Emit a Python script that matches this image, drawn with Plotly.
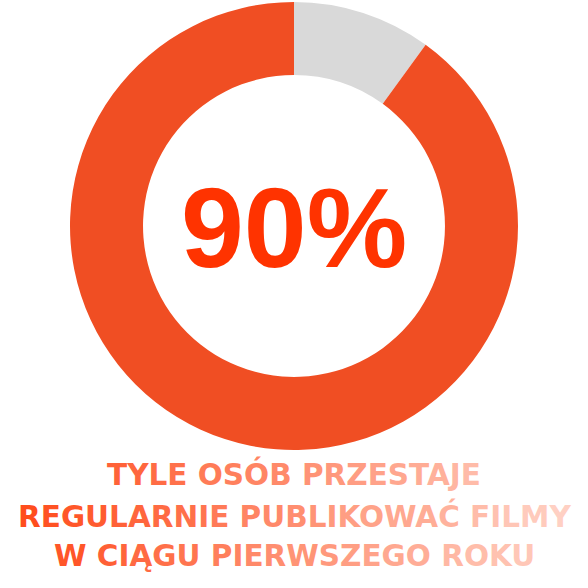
import plotly.graph_objects as go

# ---- data ----
labels = ["Pozostali", "Przestają publikować"]
values = [10, 90]
center_label = "90%"
caption_lines = [
    "TYLE OSÓB PRZESTAJE",
    "REGULARNIE PUBLIKOWAĆ FILMY",
    "W CIĄGU PIERWSZEGO ROKU",
]

# ---- style ----
slice_colors = ["#D9D9D9", "#F04E23"]
W = H = 588
cx, cy, R = 294, 226, 224
grad_left, grad_right = (255, 74, 26), (255, 211, 198)
grad_x0, grad_x1 = 16, 566
line_extents = [(103, 479), (16, 566), (53, 528)]
line_centers = [474, 516, 556]


def grad_color(x):
    t = min(max((x - grad_x0) / (grad_x1 - grad_x0), 0), 1)
    c = [round(a + (b - a) * t) for a, b in zip(grad_left, grad_right)]
    return "rgb(%d,%d,%d)" % tuple(c)


def gradient_text(text, x0, x1):
    n = len(text)
    parts = []
    for i, ch in enumerate(text):
        x = x0 + (x1 - x0) * (i + 0.5) / n
        if ch == " ":
            parts.append(" ")
        else:
            parts.append('<span style="color:%s">%s</span>' % (grad_color(x), ch))
    return "".join(parts)


fig = go.Figure(
    go.Pie(
        labels=labels,
        values=values,
        hole=0.674,
        sort=False,
        direction="clockwise",
        rotation=0,
        marker=dict(colors=slice_colors, line=dict(width=0)),
        textinfo="none",
        hoverinfo="none",
        showlegend=False,
        domain=dict(
            x=[(cx - R) / W, (cx + R) / W],
            y=[1 - (cy + R) / H, 1 - (cy - R) / H],
        ),
    )
)

annotations = [
    dict(
        text="<b>%s</b>" % center_label,
        x=0.5,
        y=1 - 228 / H,
        xref="paper",
        yref="paper",
        xanchor="center",
        yanchor="middle",
        showarrow=False,
        font=dict(family="Liberation Sans, Arial", size=113, color="#FF3300"),
    )
]
for line, (x0, x1), yc in zip(caption_lines, line_extents, line_centers):
    annotations.append(
        dict(
            text=gradient_text(line, x0, x1),
            x=0.5,
            y=1 - yc / H,
            xref="paper",
            yref="paper",
            xanchor="center",
            yanchor="middle",
            showarrow=False,
            font=dict(family="DejaVu Sans", size=29.5, weight="bold", color="#FF4A1A"),
        )
    )

fig.update_layout(
    width=W,
    height=H,
    margin=dict(l=0, r=0, t=0, b=0),
    paper_bgcolor="white",
    plot_bgcolor="white",
    annotations=annotations,
)

fig.write_html("out.html")
